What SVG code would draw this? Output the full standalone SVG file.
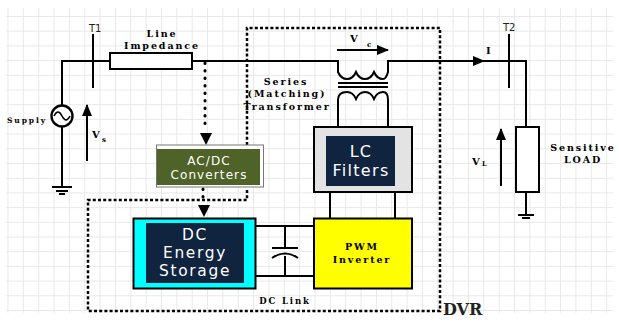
<svg xmlns="http://www.w3.org/2000/svg" width="619" height="322" viewBox="0 0 619 322">
<defs>
<pattern id="grid" x="7.5" y="16" width="15.35" height="14.7" patternUnits="userSpaceOnUse"><path d="M0.5 0V15M0 0.5H16" fill="none" stroke="#e8e8e8" stroke-width="1"/></pattern>
<marker id="ah" viewBox="0 0 12 10" refX="11" refY="5" markerWidth="12" markerHeight="10" markerUnits="userSpaceOnUse" orient="auto"><path d="M0 0L12 5L0 10Z" fill="#000"/></marker>
</defs>
<style>
.w{fill:none;stroke:#000;stroke-width:2}
.d{fill:none;stroke:#000;stroke-width:2.5;stroke-dasharray:3 2.2}
.p{fill:none;stroke:#000;stroke-width:3;stroke-dasharray:0.5 7;stroke-linecap:round}
.m{font-family:"DejaVu Serif","Liberation Serif",serif;font-weight:700;fill:#000;letter-spacing:1.9px}
.s{font-family:"DejaVu Sans","Noto Sans",sans-serif;fill:#fff;text-anchor:middle}
.t{font-family:"DejaVu Sans",sans-serif;fill:#222}
</style>
<rect width="619" height="322" fill="#fff"/>
<rect x="6" y="8" width="607" height="305" fill="url(#grid)"/>
<g id="connectors">
<path class="w" d="M110 61H62V108M62 127V187M192 61H338V72Q341 79 347 79Q353 79 356 72Q359 79 365 79Q371 79 374 72Q377 79 383 79Q386 79 388 72V61H526V127M526 192V214"/>
<path class="w" d="M338 126V100Q338 92 347 92Q353 92 356 99Q359 92 365 92Q371 92 374 99Q377 92 383 92Q388 92 388 100V126"/>
<path class="w" d="M338 83H388M338 87H388" stroke-width="1.4"/>
<path d="M258 61H271M471 61H484" stroke="#000" stroke-width="1" marker-end="url(#ah)"/>
<path class="w" d="M93 34V88" stroke-width="2.6"/>
<path class="w" d="M509 34V88" stroke-width="2.6"/>
<path class="w" d="M87 161V105" marker-end="url(#ah)" stroke-width="2.4"/>
<path class="w" d="M501 186V129" marker-end="url(#ah)" stroke-width="2.4"/>
<path class="w" d="M337 50H388" marker-end="url(#ah)" stroke-width="1.6"/>
<path class="w" d="M52 187H72M56 191H68M59 194H65"/>
<path class="w" d="M518 215H534M522 218H530" stroke-width="2.4"/>
<path class="d" d="M247 145V28H440V311H88V200H247V188"/>
<path class="p" d="M205 63V128"/>
<path d="M200 133H212L206 145Z"/>
<path class="p" d="M203 189V200"/>
<path d="M198 205H210L204 217Z"/>
<path class="w" d="M255 226H314M255 276H314M285 226V248M285 256V276M272 248H298" stroke-width="1.8"/>
<path class="w" d="M272 258Q285 249 298 258" stroke-width="1.8"/>
<path class="w" d="M330 192V218M395 192V218"/>
</g>
<g id="supply"><circle cx="62" cy="116" r="10.500" fill="#fff" stroke="#000" stroke-width="2.4"/><path d="M54 116Q58 108 62 116T70 116" fill="none" stroke="#000" stroke-width="1.6"/><text class="m" x="7" y="123" font-size="7.500">Supply</text></g>
<g id="line-impedance"><rect x="110" y="53" width="82" height="16" fill="#fff" stroke="#000" stroke-width="2"/><text class="m" x="162" y="37" font-size="9.500" text-anchor="middle">Line</text><text class="m" x="162" y="49" font-size="9.500" text-anchor="middle">Impedance</text></g>
<g id="labels">
<text class="t" x="89" y="32" font-size="10">T1</text>
<text class="t" x="503" y="31" font-size="10">T2</text>
<text class="m" x="92" y="138" font-size="10">V</text><text class="m" x="102" y="142" font-size="7">s</text>
<text class="m" x="350" y="42" font-size="10">V</text><text class="m" x="367" y="47" font-size="7">c</text>
<text class="m" x="486" y="54" font-size="10">I</text>
<text class="m" x="472" y="165" font-size="10">V</text><text class="m" x="482" y="166" font-size="6.500">L</text>
<text class="m" x="286" y="85" font-size="9.500" text-anchor="middle">Series</text>
<text class="m" x="287" y="97" font-size="9.500" text-anchor="middle">(Matching)</text>
<text class="m" x="287" y="110" font-size="9.500" text-anchor="middle">Transformer</text>
<text class="m" x="583" y="151" font-size="9.500" text-anchor="middle">Sensitive</text>
<text class="m" x="583" y="163" font-size="9.500" text-anchor="middle">LOAD</text>
<text class="m" x="285" y="304" font-size="8.500" text-anchor="middle">DC Link</text>
<text x="443" y="315" font-size="16" font-family="DejaVu Serif,serif" font-weight="700" fill="#222">DVR</text>
</g>
<g id="load"><rect x="516" y="127" width="23" height="65" fill="#fff" stroke="#000" stroke-width="2"/></g>
<g id="converters"><rect x="156.500" y="145" width="107" height="42" fill="#fff" stroke="#777"/><rect x="157" y="149" width="103" height="36" fill="#4f6228"/><text class="s" font-size="12" letter-spacing="1.100" x="209" y="165">AC/DC</text><text class="s" font-size="12" letter-spacing="1.100" x="209" y="179">Converters</text></g>
<g id="lc-filters"><rect x="314" y="127" width="98" height="65" fill="#e3e3e3" stroke="#000" stroke-width="2"/><rect x="326" y="136" width="69" height="50" fill="#10243f"/><text class="s" font-size="16" letter-spacing="1.300" x="361" y="157">LC</text><text class="s" font-size="16" letter-spacing="1.300" x="361" y="176">Filters</text></g>
<g id="dc-storage"><rect x="133.500" y="218.500" width="122" height="70" fill="#0ff" stroke="#000" stroke-width="2"/><rect x="146" y="223" width="98" height="60" fill="#10243f"/><text class="s" font-size="15.400" letter-spacing="1.700" x="195" y="240">DC</text><text class="s" font-size="15.400" letter-spacing="1.700" x="195" y="258">Energy</text><text class="s" font-size="15.400" letter-spacing="1.700" x="195" y="276">Storage</text></g>
<g id="pwm"><rect x="314" y="218.500" width="98" height="70" fill="#ff0" stroke="#000" stroke-width="2"/><text class="m" x="362" y="250" font-size="9.500" text-anchor="middle">PWM</text><text class="m" x="362" y="263" font-size="9.500" text-anchor="middle">Inverter</text></g>
</svg>
